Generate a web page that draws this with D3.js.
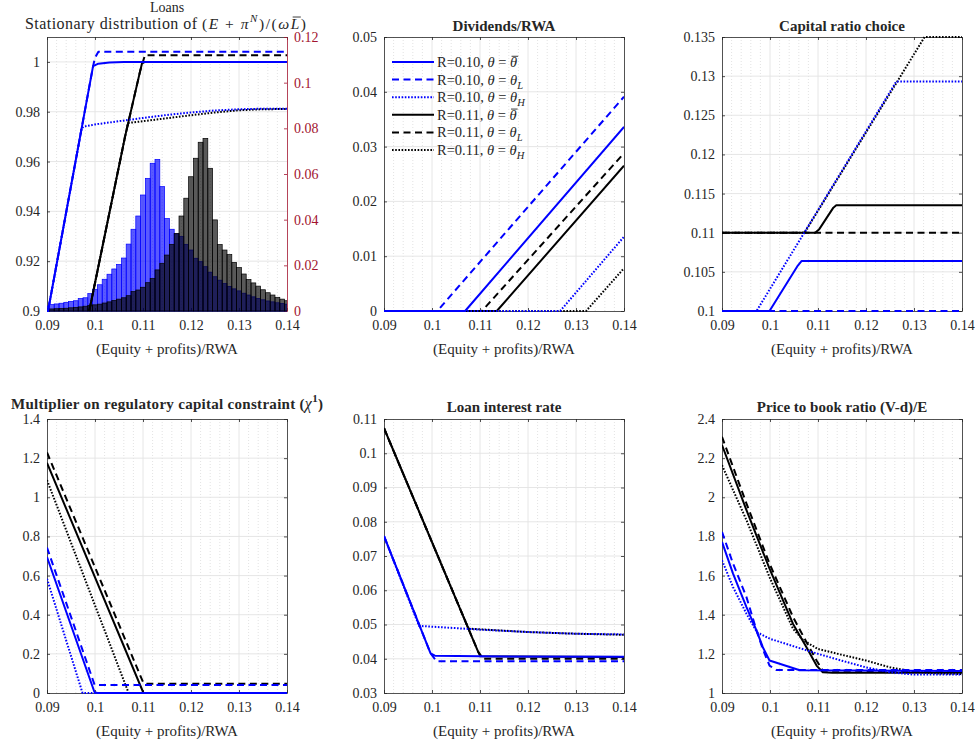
<!DOCTYPE html>
<html><head><meta charset="utf-8">
<script src="https://cdn.jsdelivr.net/npm/d3@7"></script>
<style>
body{margin:0;background:#fff}
svg text{font-family:"Liberation Serif","Times New Roman",serif;fill:#262626}
</style>
</head><body>
<svg id="c" width="975" height="740"></svg>
<script>
// ---------------- DATA ----------------
const xTicks = [0.09, 0.1, 0.11, 0.12, 0.13, 0.14];
const xMinorTicks = [0.092,0.094,0.096,0.098,0.102,0.104,0.106,0.108,0.112,0.114,0.116,0.118,0.122,0.124,0.126,0.128,0.132,0.134,0.136,0.138];

// Histogram (right axis of Loans panel)
const binCenters = [0.09,0.091,0.092,0.093,0.094,0.095,0.096,0.097,0.098,0.099,0.1,0.101,0.102,0.103,0.104,0.105,0.106,0.107,0.108,0.109,0.11,0.111,0.112,0.113,0.114,0.115,0.116,0.117,0.118,0.119,0.12,0.121,0.122,0.123,0.124,0.125,0.126,0.127,0.128,0.129,0.13,0.131,0.132,0.133,0.134,0.135,0.136,0.137,0.138,0.139,0.14];
const histR10 = [0.0022,0.0028,0.0031,0.0034,0.0038,0.0042,0.0045,0.0055,0.0058,0.0076,0.0095,0.0115,0.0139,0.0161,0.0184,0.0204,0.0232,0.0293,0.0358,0.0416,0.0508,0.0581,0.0647,0.0664,0.0545,0.0405,0.0358,0.0338,0.0326,0.0292,0.0267,0.0231,0.0216,0.0194,0.017,0.015,0.0135,0.012,0.0108,0.0097,0.0088,0.0078,0.007,0.0062,0.0055,0.0049,0.0044,0.004,0.0036,0.0033,0.003];
const histR11 = [0.0008,0.0009,0.001,0.0011,0.0012,0.0014,0.0016,0.0018,0.0021,0.0024,0.0027,0.003,0.0035,0.004,0.0046,0.0052,0.0058,0.0067,0.0085,0.0092,0.0104,0.0124,0.0142,0.018,0.0209,0.0245,0.0292,0.034,0.0416,0.0494,0.0588,0.0669,0.0739,0.0756,0.0625,0.0399,0.0291,0.0267,0.0247,0.0213,0.019,0.0162,0.0138,0.0123,0.0109,0.0093,0.008,0.007,0.006,0.0052,0.0045];

// Loans (left axis)
const loansB_bar = [[0.09,0.8978],[0.0996,0.9983],[0.1007,0.9993],[0.103,0.9998],[0.106,1.0],[0.14,1.0]];
const loansB_L   = [[0.09,0.8978],[0.0996,0.9983],[0.1,1.0016],[0.1007,1.0041],[0.14,1.0041]];
const loansB_H   = [[0.09,0.8978],[0.0972,0.9732],[0.0976,0.974],[0.1,0.9749],[0.105,0.9762],[0.11,0.9775],[0.115,0.9787],[0.12,0.9797],[0.125,0.9805],[0.13,0.981],[0.135,0.9812],[0.14,0.9812]];
const loansK_bar = [[0.0988,0.9],[0.10625,0.9699],[0.1094,0.9963],[0.1098,0.9995],[0.1105,1.0],[0.14,1.0]];
const loansK_L   = [[0.0988,0.9],[0.10625,0.9699],[0.1094,0.9963],[0.1104,1.0027],[0.14,1.0027]];
const loansK_H   = [[0.0988,0.9],[0.10625,0.9699],[0.1069,0.9755],[0.11,0.9762],[0.115,0.9774],[0.12,0.9786],[0.125,0.9797],[0.13,0.9806],[0.135,0.981],[0.14,0.9811]];

// Dividends/RWA
const divB_bar = [[0.09,0],[0.1069,0],[0.14,0.0336]];
const divB_L   = [[0.09,0],[0.1011,0],[0.14,0.0391]];
const divB_H   = [[0.09,0],[0.1267,0],[0.14,0.01356]];
const divK_bar = [[0.09,0],[0.1135,0],[0.14,0.0265]];
const divK_L   = [[0.09,0],[0.1104,0],[0.14,0.0288]];
const divK_H   = [[0.09,0],[0.1321,0],[0.14,0.0078]];

// Capital ratio choice
const capB_bar = [[0.09,0.1],[0.0999,0.1],[0.1058,0.1058],[0.1066,0.1064],[0.14,0.1064]];
const capB_L   = [[0.09,0.1],[0.14,0.1]];
const capB_H   = [[0.09,0.1],[0.0972,0.1],[0.1263,0.1293],[0.14,0.1293]];
const capK_bar = [[0.09,0.11],[0.1094,0.11],[0.1102,0.1104],[0.1132,0.1132],[0.1138,0.1135],[0.14,0.1135]];
const capK_L   = [[0.09,0.11],[0.14,0.11]];
const capK_H   = [[0.09,0.11],[0.1072,0.11],[0.1322,0.135],[0.14,0.135]];

// Multiplier on regulatory capital constraint
const mulB_bar = [[0.09,0.695],[0.0999,0.004],[0.1005,0],[0.14,0]];
const mulB_L   = [[0.09,0.743],[0.0999,0.043],[0.1005,0.041],[0.14,0.041]];
const mulB_H   = [[0.09,0.584],[0.0974,0],[0.14,0]];
const mulK_bar = [[0.09,1.176],[0.1101,0],[0.14,0]];
const mulK_L   = [[0.09,1.229],[0.1101,0.05],[0.1108,0.047],[0.14,0.047]];
const mulK_H   = [[0.09,1.088],[0.107,0],[0.14,0]];

// Loan interest rate
const lirB_bar = [[0.09,0.0758],[0.0997,0.0416],[0.1006,0.0409],[0.11,0.0407],[0.14,0.0406]];
const lirB_L   = [[0.09,0.0758],[0.0997,0.0416],[0.1009,0.0393],[0.14,0.0393]];
const lirB_H   = [[0.09,0.0758],[0.0973,0.0496],[0.11,0.0485],[0.12,0.0478],[0.13,0.0473],[0.14,0.0471]];
const lirK_bar = [[0.09,0.1073],[0.1096,0.0421],[0.1103,0.0407],[0.14,0.0405]];
const lirK_L   = [[0.09,0.1073],[0.1096,0.0421],[0.1103,0.04],[0.14,0.04]];
const lirK_H   = [[0.09,0.1073],[0.1076,0.0488],[0.11,0.0486],[0.12,0.0478],[0.13,0.0473],[0.14,0.047]];

// Price to book ratio
const ptbB_bar = [[0.09,1.772],[0.0923,1.61],[0.0951,1.439],[0.0972,1.319],[0.0985,1.234],[0.0999,1.166],[0.1062,1.116],[0.14,1.113]];
const ptbB_L   = [[0.09,1.823],[0.0923,1.661],[0.0951,1.49],[0.0972,1.319],[0.0985,1.225],[0.0999,1.14],[0.1013,1.118],[0.14,1.117]];
const ptbB_H   = [[0.09,1.678],[0.0923,1.541],[0.0951,1.405],[0.0973,1.31],[0.1,1.277],[0.105,1.238],[0.11,1.2],[0.115,1.165],[0.12,1.131],[0.125,1.106],[0.13,1.094],[0.14,1.094]];
const ptbK_bar = [[0.09,2.267],[0.0951,1.934],[0.0999,1.635],[0.1048,1.353],[0.1076,1.234],[0.1097,1.14],[0.111,1.106],[0.113,1.104],[0.14,1.104]];
const ptbK_L   = [[0.09,2.309],[0.0951,1.968],[0.0999,1.661],[0.1048,1.388],[0.1076,1.26],[0.1097,1.166],[0.111,1.114],[0.14,1.11]];
const ptbK_H   = [[0.09,2.164],[0.0951,1.883],[0.0999,1.592],[0.1048,1.328],[0.107,1.268],[0.11,1.225],[0.115,1.195],[0.12,1.166],[0.125,1.131],[0.13,1.109],[0.135,1.1],[0.14,1.097]];

// Tick values
const loansLeftTicks = [0.9,0.92,0.94,0.96,0.98,1];
const loansRightTicks = [0,0.02,0.04,0.06,0.08,0.1,0.12];
const divTicks = [0,0.01,0.02,0.03,0.04,0.05];
const capTicks = [0.1,0.105,0.11,0.115,0.12,0.125,0.13,0.135];
const mulTicks = [0,0.2,0.4,0.6,0.8,1,1.2,1.4];
const lirTicks = [0.03,0.04,0.05,0.06,0.07,0.08,0.09,0.1,0.11];
const ptbTicks = [1,1.2,1.4,1.6,1.8,2,2.2,2.4];

const legendLabels = [
  {R:"0.10", sub:"bar"}, {R:"0.10", sub:"L"}, {R:"0.10", sub:"H"},
  {R:"0.11", sub:"bar"}, {R:"0.11", sub:"L"}, {R:"0.11", sub:"H"}
];

// ---------------- DRAWING ----------------
const svg = d3.select('#c');
const FONT = '"Liberation Serif","Times New Roman",serif';
const AX = '#262626';
const RED = '#a2142f';
const BLUE = '#0000ff';
const fmt = v => String(+v.toFixed(4));
const styles = {
  bar: {dash: null, w: 2},
  L:   {dash: '7,4.5', w: 2},
  H:   {dash: '1.6,1.6', w: 2}
};
let clipN = 0;

function overbar(textSel, idx, fs, shift) {
  const n = textSel.node();
  const s = n.getStartPositionOfChar(idx);
  const e = n.getEndPositionOfChar(idx);
  const parent = d3.select(n.parentNode);
  const yy = s.y - fs * 0.74;
  parent.append('line')
    .attr('x1', s.x + (shift || 1.5)).attr('x2', e.x + (shift || 1.5) - 0.5)
    .attr('y1', yy).attr('y2', yy)
    .attr('stroke', AX).attr('stroke-width', 0.9);
}

function makePanel(p) {
  const g = svg.append('g').attr('transform', `translate(${p.left},${p.top})`);
  const x = d3.scaleLinear().domain([0.09, 0.14]).range([0, p.w]);
  const y = d3.scaleLinear().domain(p.yDomain).range([p.h, 0]);
  g.append('g').selectAll('line').data(xMinorTicks).join('line')
    .attr('x1', d => x(d)).attr('x2', d => x(d)).attr('y1', 0).attr('y2', p.h)
    .attr('stroke', '#cfcfcf').attr('stroke-width', 0.6).attr('stroke-dasharray', '1,2');
  g.append('g').selectAll('line').data(xTicks.slice(1, -1)).join('line')
    .attr('x1', d => x(d)).attr('x2', d => x(d)).attr('y1', 0).attr('y2', p.h)
    .attr('stroke', '#e3e3e3').attr('stroke-width', 0.9);
  g.append('g').selectAll('line').data(p.yTicks.filter(t => t > p.yDomain[0] + 1e-9 && t < p.yDomain[1] - 1e-9)).join('line')
    .attr('y1', d => y(d)).attr('y2', d => y(d)).attr('x1', 0).attr('x2', p.w)
    .attr('stroke', '#e3e3e3').attr('stroke-width', 0.9);
  const id = 'clip' + (clipN++);
  svg.append('clipPath').attr('id', id).append('rect')
    .attr('x', p.left).attr('y', p.top - 1).attr('width', p.w).attr('height', p.h + 2);
  const P = {g, x, y, p, clip: `url(#${id})`};
  drawAxes(P, p.yTicks, p.rightColor);
  return P;
}

function styleAxis(sel, color) {
  sel.attr('font-size', 14).attr('font-family', FONT).attr('color', color || AX);
  sel.selectAll('.domain').attr('stroke-width', 0.8);
  sel.selectAll('.tick line').attr('stroke-width', 0.8);
  sel.selectAll('text').style('fill', color || AX);
}

function drawAxes(P, yTicks, rightColor) {
  const {g, x, y, p} = P;
  const ax = g.append('g');
  ax.append('g').attr('transform', `translate(0,${p.h})`)
    .call(d3.axisBottom(x).tickValues(xTicks).tickFormat(fmt).tickSize(-3).tickSizeOuter(0).tickPadding(9))
    .call(s => styleAxis(s));
  ax.append('g')
    .call(d3.axisTop(x).tickValues(xTicks).tickFormat('').tickSize(-3).tickSizeOuter(0))
    .call(s => styleAxis(s));
  ax.append('g')
    .call(d3.axisLeft(y).tickValues(yTicks).tickFormat(fmt).tickSize(-3).tickSizeOuter(0).tickPadding(7))
    .call(s => styleAxis(s));
  if (!rightColor) {
    ax.append('g').attr('transform', `translate(${p.w},0)`)
      .call(d3.axisRight(y).tickValues(yTicks).tickFormat('').tickSize(-3).tickSizeOuter(0))
      .call(s => styleAxis(s));
  }
}

function clippedGroup(P) {
  const outer = svg.append('g').attr('clip-path', P.clip);
  return outer.append('g').attr('transform', `translate(${P.p.left},${P.p.top})`);
}

function drawSet(P, sets) {
  const cg = clippedGroup(P);
  const line = d3.line().x(d => P.x(d[0])).y(d => P.y(d[1]));
  sets.forEach(([data, color, kind]) => {
    const st = styles[kind];
    const path = cg.append('path').datum(data).attr('d', line).attr('fill', 'none')
      .attr('stroke', color).attr('stroke-width', st.w).attr('stroke-linejoin', 'round');
    if (st.dash) path.attr('stroke-dasharray', st.dash);
  });
}

function title(P, txt, dyTop) {
  return svg.append('text')
    .attr('x', P.p.left + P.p.w / 2).attr('y', P.p.top - (dyTop || 6))
    .attr('text-anchor', 'middle').attr('font-size', 15)
    .attr('font-weight', 'bold').text(txt);
}
function xlabel(P) {
  svg.append('text').attr('x', P.p.left + P.p.w / 2).attr('y', P.p.top + P.p.h + 43)
    .attr('text-anchor', 'middle').attr('font-size', 15).text('(Equity + profits)/RWA');
}

// ---------- Panel 1: Loans + histogram ----------
const P1 = makePanel({left: 47, top: 37, w: 240, h: 274, yDomain: [0.9, 1.01], yTicks: loansLeftTicks, rightColor: RED});
const yR = d3.scaleLinear().domain([0, 0.12]).range([274, 0]);
{
  const ax = P1.g.append('g').attr('transform', 'translate(240,0)')
    .call(d3.axisRight(yR).tickValues(loansRightTicks).tickFormat(fmt).tickSize(-3).tickSizeOuter(0).tickPadding(7));
  styleAxis(ax, RED);
  const cg = clippedGroup(P1);
  const hw = 0.0005;
  cg.append('g').selectAll('rect').data(binCenters.map((c, i) => ({c, v: histR10[i]}))).join('rect')
    .attr('x', d => P1.x(d.c - hw)).attr('width', d => P1.x(d.c + hw) - P1.x(d.c - hw))
    .attr('y', d => yR(d.v)).attr('height', d => yR(0) - yR(d.v))
    .attr('fill', BLUE).attr('fill-opacity', 0.65).attr('stroke', BLUE).attr('stroke-width', 0.7);
  cg.append('g').selectAll('rect').data(binCenters.map((c, i) => ({c, v: histR11[i]}))).join('rect')
    .attr('x', d => P1.x(d.c - hw)).attr('width', d => P1.x(d.c + hw) - P1.x(d.c - hw))
    .attr('y', d => yR(d.v)).attr('height', d => yR(0) - yR(d.v))
    .attr('fill', '#000').attr('fill-opacity', 0.65).attr('stroke', '#000').attr('stroke-width', 0.7);
}
drawSet(P1, [
  [loansK_bar, '#000', 'bar'], [loansK_L, '#000', 'L'], [loansK_H, '#000', 'H'],
  [loansB_bar, BLUE, 'bar'], [loansB_L, BLUE, 'L'], [loansB_H, BLUE, 'H']
]);
svg.append('text').attr('x', 167).attr('y', 12.3).attr('text-anchor', 'middle').attr('font-size', 14).text('Loans');
{
  svg.append('text').attr('x', 25).attr('y', 28.5).attr('font-size', 16)
    .attr('textLength', 172).attr('lengthAdjust', 'spacing')
    .text('Stationary distribution of');
  const t = svg.append('text').attr('x', 202).attr('y', 28.5).attr('font-size', 15.5)
    .attr('textLength', 104).attr('lengthAdjust', 'spacing');
  t.append('tspan').text('(');
  t.append('tspan').attr('font-style', 'italic').text('E');
  t.append('tspan').text(' + ');
  t.append('tspan').attr('font-style', 'italic').text('π');
  t.append('tspan').attr('font-size', 11).attr('font-style', 'italic').attr('dy', -7).text('N');
  t.append('tspan').attr('dy', 7).text(')/(');
  t.append('tspan').attr('font-style', 'italic').text('ω');
  t.append('tspan').attr('font-style', 'italic').text('L');
  t.append('tspan').text(')');
  overbar(t, 11, 15.5, 2);
}
xlabel(P1);

// ---------- Panel 2: Dividends ----------
const P2 = makePanel({left: 384, top: 37, w: 240, h: 274, yDomain: [0, 0.05], yTicks: divTicks});
drawSet(P2, [
  [divK_bar, '#000', 'bar'], [divK_L, '#000', 'L'], [divK_H, '#000', 'H'],
  [divB_bar, BLUE, 'bar'], [divB_L, BLUE, 'L'], [divB_H, BLUE, 'H']
]);
title(P2, 'Dividends/RWA');
xlabel(P2);
{
  const lg = svg.append('g').attr('transform', 'translate(392,62)');
  legendLabels.forEach((d, i) => {
    const color = i < 3 ? BLUE : '#000';
    const yy = i * 17.6;
    const st = styles[d.sub === 'bar' ? 'bar' : d.sub];
    const ln = lg.append('line').attr('x1', 0).attr('x2', 42).attr('y1', yy).attr('y2', yy)
      .attr('stroke', color).attr('stroke-width', st.w);
    if (st.dash) ln.attr('stroke-dasharray', st.dash);
    const t = lg.append('text').attr('x', 45).attr('y', yy + 5).attr('font-size', 14.5);
    t.append('tspan').text(`R=${d.R}, `);
    t.append('tspan').attr('font-style', 'italic').text('θ');
    t.append('tspan').text(' = ');
    t.append('tspan').attr('font-style', 'italic').text('θ');
    if (d.sub !== 'bar') {
      t.append('tspan').attr('font-style', 'italic').attr('font-size', 10.5).attr('dy', 4).text(d.sub);
    } else {
      overbar(t, 12, 14.5, 1.5);
    }
  });
}

// ---------- Panel 3: Capital ratio choice ----------
const P3 = makePanel({left: 722, top: 37, w: 240, h: 274, yDomain: [0.1, 0.135], yTicks: capTicks});
drawSet(P3, [
  [capK_bar, '#000', 'bar'], [capK_L, '#000', 'L'], [capK_H, '#000', 'H'],
  [capB_bar, BLUE, 'bar'], [capB_L, BLUE, 'L'], [capB_H, BLUE, 'H']
]);
title(P3, 'Capital ratio choice');
xlabel(P3);

// ---------- Panel 4: Multiplier ----------
const P4 = makePanel({left: 47, top: 419, w: 240, h: 274, yDomain: [0, 1.4], yTicks: mulTicks});
drawSet(P4, [
  [mulK_bar, '#000', 'bar'], [mulK_L, '#000', 'L'], [mulK_H, '#000', 'H'],
  [mulB_bar, BLUE, 'bar'], [mulB_L, BLUE, 'L'], [mulB_H, BLUE, 'H']
]);
{
  const t = title(P4, '', 10.5).attr('textLength', 312).attr('lengthAdjust', 'spacing');
  t.append('tspan').text('Multiplier on regulatory capital constraint (');
  t.append('tspan').attr('font-style', 'italic').attr('font-weight', 'normal').attr('font-size', 16).text('χ');
  t.append('tspan').attr('font-size', 11).attr('dy', -7).text('1');
  t.append('tspan').attr('dy', 7).text(')');
}
xlabel(P4);

// ---------- Panel 5: Loan interest rate ----------
const P5 = makePanel({left: 384, top: 419, w: 240, h: 274, yDomain: [0.03, 0.11], yTicks: lirTicks});
drawSet(P5, [
  [lirK_bar, '#000', 'bar'], [lirK_L, '#000', 'L'], [lirK_H, '#000', 'H'],
  [lirB_bar, BLUE, 'bar'], [lirB_L, BLUE, 'L'], [lirB_H, BLUE, 'H']
]);
title(P5, 'Loan interest rate', 7);
xlabel(P5);

// ---------- Panel 6: Price to book ----------
const P6 = makePanel({left: 722, top: 419, w: 240, h: 274, yDomain: [1, 2.4], yTicks: ptbTicks});
drawSet(P6, [
  [ptbK_bar, '#000', 'bar'], [ptbK_L, '#000', 'L'], [ptbK_H, '#000', 'H'],
  [ptbB_bar, BLUE, 'bar'], [ptbB_L, BLUE, 'L'], [ptbB_H, BLUE, 'H']
]);
title(P6, 'Price to book ratio (V-d)/E', 7);
xlabel(P6);
</script>
</body></html>
